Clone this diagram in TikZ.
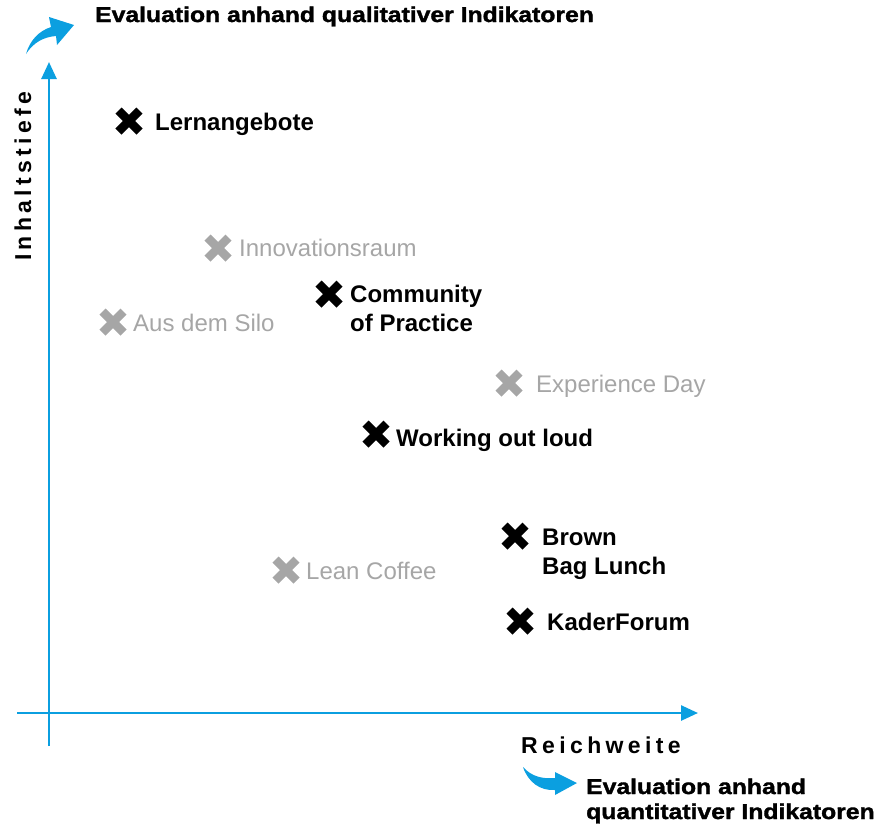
\documentclass[tikz,border=0pt]{standalone}
\usepackage{fontspec}
\setmainfont{Liberation Sans}
\newfontfamily\heavyfont{Liberation Sans}[BoldFeatures={FakeBold=1.6,FakeStretch=1.15}]
\newfontfamily\spacedfont{Liberation Sans}[LetterSpace=19]
\usetikzlibrary{arrows.meta,calc}
\definecolor{axisblue}{RGB}{11,159,224}
\definecolor{lightgray}{RGB}{166,166,166}
\tikzset{
  axis/.style={draw=axisblue,line width=2.6pt,-{Triangle[length=17pt,width=15pt]}},
  cross/.style={line width=8.5pt,line cap=butt},
  lab/.style={anchor=base west,inner sep=0pt,font=\fontsize{24}{28}\selectfont\bfseries},
  glab/.style={anchor=base west,inner sep=0pt,text=lightgray,font=\fontsize{24}{28}\selectfont},
  head/.style={anchor=base west,inner sep=0pt,font=\fontsize{21.5}{26}\selectfont\heavyfont\bfseries},
  axlab/.style={anchor=base west,inner sep=0pt,font=\fontsize{23}{26}\selectfont\spacedfont\bfseries},
}
\newcommand{\xmark}[3]{%
  \draw[cross,#3] ($(#1)+(-10.5,-10.5)$) -- ($(#1)+(10.5,10.5)$);
  \draw[cross,#3] ($(#1)+(-10.5,10.5)$) -- ($(#1)+(10.5,-10.5)$);
}
\begin{document}
\begin{tikzpicture}[x=1pt,y=-1pt]
\useasboundingbox (0,0) rectangle (878,823);
% axes
\coordinate (ystart) at (49,746);
\coordinate (yend) at (49,62);
\coordinate (xstart) at (17,713);
\coordinate (xend) at (698,713);
\draw[axis] (ystart) -- (yend);
\draw[axis] (xstart) -- (xend);
% curved arrows
\fill[axisblue] (26,54) .. controls (30,40) and (39,31) .. (51,27)
  -- (49,17) -- (74,25) -- (57,45) -- (56,36)
  .. controls (43,37) and (33,43) .. (26,54) -- cycle;
\fill[axisblue] (523,767) .. controls (532,777) and (543,779) .. (555,778)
  -- (555,772) -- (577,783) -- (555,795) -- (555,790)
  .. controls (540,791) and (528,782) .. (523,767) -- cycle;
% headers
\node[head] (hq) at (95,22) {Evaluation anhand qualitativer Indikatoren};
\node[head] (hn1) at (586,794) {Evaluation anhand};
\node[head] (hn2) at (586,819) {quantitativer Indikatoren};
% axis labels
\node[axlab] (xl) at (521,753) {Reichweite};
\node[axlab,rotate=90] (yl) at (31,261) {Inhaltstiefe};
% markers
\coordinate (m1) at (129,121);
\coordinate (m2) at (218,248);
\coordinate (m3) at (113,322);
\coordinate (m4) at (329,294);
\coordinate (m5) at (509,383);
\coordinate (m6) at (376,434);
\coordinate (m7) at (515,536);
\coordinate (m8) at (286,570);
\coordinate (m9) at (520,621);
\xmark{m1}{}{black}
\xmark{m2}{}{lightgray}
\xmark{m3}{}{lightgray}
\xmark{m4}{}{black}
\xmark{m5}{}{lightgray}
\xmark{m6}{}{black}
\xmark{m7}{}{black}
\xmark{m8}{}{lightgray}
\xmark{m9}{}{black}
% labels
\node[lab] (t1) at (155,130) {Lernangebote};
\node[glab] (t2) at (239,256) {Innovationsraum};
\node[glab] (t3) at (133,331) {Aus dem Silo};
\node[lab] (t4a) at (350,302) {Community};
\node[lab] (t4b) at (350,331) {of Practice};
\node[glab] (t5) at (536,392) {Experience Day};
\node[lab] (t6) at (396,446) {Working out loud};
\node[lab] (t7a) at (542,545) {Brown};
\node[lab] (t7b) at (542,574) {Bag Lunch};
\node[glab] (t8) at (306,579) {Lean Coffee};
\node[lab] (t9) at (547,630) {KaderForum};
\end{tikzpicture}
\end{document}
